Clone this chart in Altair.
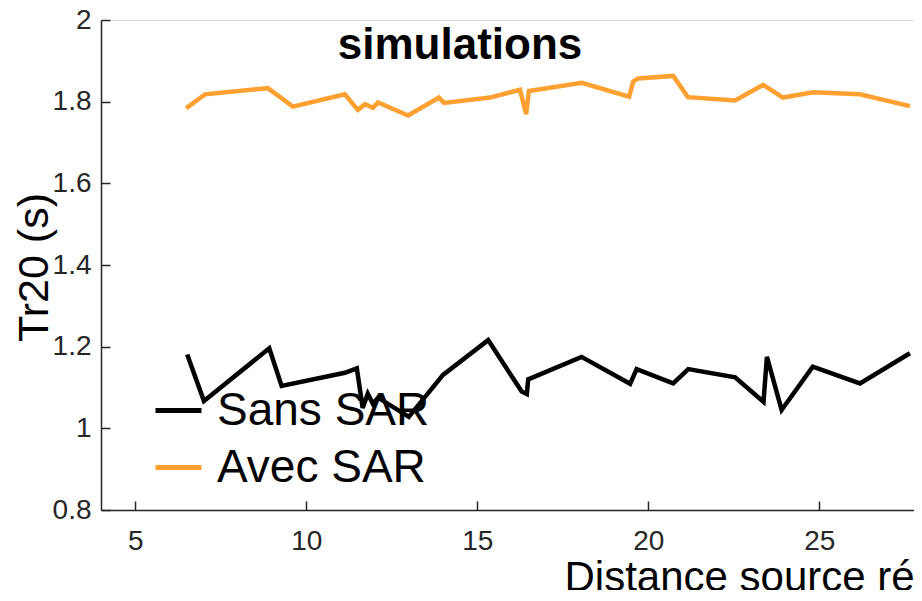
import altair as alt
import pandas as pd

# ---- data ----
sans_x = [6.52, 7.01, 8.92, 9.28, 11.13, 11.48, 11.65, 11.80, 11.95, 12.10, 13.00, 14.00,
          15.32, 16.30, 16.45, 16.49, 18.05, 19.47, 19.66, 20.73, 21.17, 22.54, 23.37,
          23.47, 23.90, 24.81, 26.19, 27.65]
sans_y = [1.181, 1.067, 1.196, 1.104, 1.136, 1.147, 1.050, 1.085, 1.060, 1.075, 1.028, 1.131,
          1.216, 1.090, 1.084, 1.120, 1.175, 1.109, 1.145, 1.110, 1.145, 1.125, 1.065,
          1.175, 1.045, 1.151, 1.110, 1.184]

avec_x = [6.49, 7.04, 8.88, 9.61, 11.13, 11.51, 11.72, 11.95, 12.10, 12.98, 13.88, 14.03,
          15.37, 16.25, 16.43, 16.51, 18.06, 19.44, 19.56, 19.70, 20.73, 21.16, 22.54,
          23.36, 23.94, 24.82, 26.19, 27.65]
avec_y = [1.784, 1.818, 1.833, 1.788, 1.818, 1.780, 1.794, 1.785, 1.798, 1.766, 1.810, 1.797,
          1.810, 1.829, 1.769, 1.826, 1.846, 1.812, 1.849, 1.857, 1.863, 1.811, 1.803,
          1.841, 1.810, 1.823, 1.818, 1.789]

series_names = ["Sans SAR", "Avec SAR"]
series_colors = ["#000000", "#FFA030"]
x_ticks = [5, 10, 15, 20, 25]
y_ticks = [0.8, 1, 1.2, 1.4, 1.6, 1.8, 2]
chart_title = "simulations"
x_title = "Distance source récepteur (m)"
y_title = "Tr20 (s)"

rows = []
for name, xs, ys in [("Sans SAR", sans_x, sans_y), ("Avec SAR", avec_x, avec_y)]:
    for i, (xv, yv) in enumerate(zip(xs, ys)):
        rows.append({"serie": name, "d": xv, "t": yv, "o": i})
df = pd.DataFrame(rows)

W, H = 813, 490
FONT = "Liberation Sans"
AX = "#262626"

xscale = alt.Scale(domain=[4, 27.77], nice=False, zero=False)
yscale = alt.Scale(domain=[0.8, 2], nice=False, zero=False)

lines = alt.Chart(df).mark_line(strokeWidth=4.5, strokeJoin="miter").encode(
    x=alt.X("d:Q", scale=xscale, axis=alt.Axis(
        orient="bottom", values=x_ticks, ticks=False, grid=False,
        domainColor=AX, domainWidth=1.5,
        labelFont=FONT, labelFontSize=28, labelColor=AX, labelPadding=17,
        title=x_title, titleFont=FONT, titleFontSize=42, titleFontWeight="normal",
        titleColor="#000000", titleAlign="left", titleBaseline="alphabetic",
        titleAnchor="start", titleX=463, titleY=80)),
    y=alt.Y("t:Q", scale=yscale, axis=alt.Axis(
        orient="left", values=y_ticks, format="~g", ticks=False, grid=False,
        domainColor=AX, domainWidth=1.5,
        labelFont=FONT, labelFontSize=28, labelColor=AX, labelPadding=10,
        title=y_title, titleFont=FONT, titleFontSize=43, titleFontWeight="normal",
        titleColor="#000000", titleAngle=270, titleAlign="center",
        titleBaseline="alphabetic", titleX=-54, titleY=H / 2 + 2)),
    color=alt.Color("serie:N",
                    scale=alt.Scale(domain=series_names, range=series_colors),
                    legend=alt.Legend(
                        title=None, orient="none", legendX=52, legendY=365,
                        symbolType="stroke", symbolSize=2116, symbolStrokeWidth=5,
                        labelFont=FONT, labelFontSize=46, labelColor="#000000",
                        labelOffset=13, rowPadding=8, padding=0, labelLimit=0,
                        direction="vertical")),
    order="o:Q",
)

inner_ticks = alt.Chart(df).mark_point(opacity=0).encode(
    x=alt.X("d:Q", scale=xscale, axis=alt.Axis(
        orient="top", offset=-H, values=x_ticks, ticks=True, tickSize=9,
        tickColor=AX, tickWidth=1.5, labels=False, domain=False, grid=False, title=None)),
    y=alt.Y("t:Q", scale=yscale, axis=alt.Axis(
        orient="right", offset=-W, values=y_ticks, ticks=True, tickSize=9,
        tickColor=AX, tickWidth=1.5, labels=False, domain=False, grid=False, title=None)),
)

title_df = pd.DataFrame({"label": [chart_title]})
title_mark = alt.Chart(title_df).mark_text(
    font=FONT, fontSize=44, fontWeight="bold", color="#000000",
    align="center", baseline="alphabetic").encode(
    text="label:N", x=alt.value(359), y=alt.value(39))

chart = alt.layer(inner_ticks, lines, title_mark).resolve_axis(
    x="independent", y="independent").properties(
    width=W, height=H,
    autosize=alt.AutoSizeParams(type="none"),
    padding={"left": 93, "top": 12, "right": 0, "bottom": 80},
).configure_view(stroke=None).configure(background="white")

chart.save("out.html", embed_options={"renderer": "svg", "actions": False})
